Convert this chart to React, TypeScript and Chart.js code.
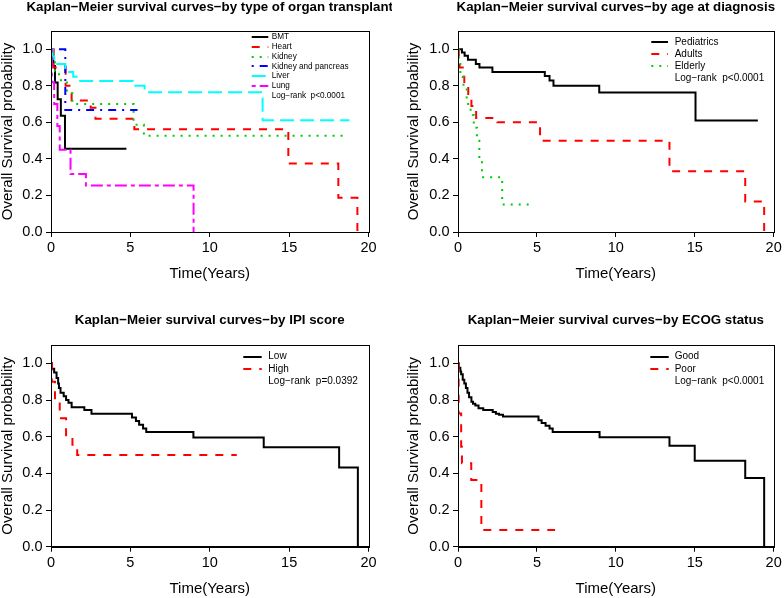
import React, { useEffect, useRef } from "react";
import { Chart, registerables } from "chart.js";

Chart.register(...registerables);

const FONT = "'Liberation Sans', Arial, Helvetica, sans-serif";
const M = "\u2212";

// ---------- axes ----------
const xTicks = [0, 5, 10, 15, 20];
const yTicks = [0, 0.2, 0.4, 0.6, 0.8, 1.0];
const xLabel = "Time(Years)";
const yLabel = "Overall Survival probability";

// ---------- panel 1: organ transplant ----------
const organLabels = ["BMT", "Heart", "Kidney", "Kidney and pancreas", "Liver", "Lung"];
const bmtTime = [0, 0.15, 0.25, 0.42, 0.62, 0.88, 4.75];
const bmtSurv = [1, 0.909, 0.818, 0.727, 0.636, 0.455, 0.455];
const heartTime = [0, 0.15, 0.92, 1.3, 2.5, 2.8, 5.25, 14.95, 18.1, 19.3];
const heartSurv = [1, 0.9, 0.8, 0.72, 0.68, 0.62, 0.5625, 0.375, 0.1875, 0];
const kidneyTime = [0, 0.1, 0.25, 0.5, 1.0, 1.35, 5.2, 5.85, 18.7];
const kidneySurv = [1, 0.94, 0.88, 0.83, 0.76, 0.7, 0.587, 0.527, 0.527];
const kpTime = [0, 0.9, 5.45];
const kpSurv = [1, 0.667, 0.667];
const liverTime = [0, 0.1, 0.2, 0.9, 1.4, 1.7, 5.15, 5.9, 13.33, 18.8];
const liverSurv = [1, 0.96, 0.92, 0.875, 0.85, 0.826, 0.8, 0.765, 0.612, 0.612];
const lungTime = [0, 0.05, 0.2, 0.4, 0.55, 1.23, 2.2, 8.98];
const lungSurv = [1, 0.82, 0.7, 0.58, 0.45, 0.317, 0.255, 0];
const organP = "Log" + M + "rank  p<0.0001";

// ---------- panel 2: age at diagnosis ----------
const ageLabels = ["Pediatrics", "Adults", "Elderly"];
const pedTime = [0, 0.25, 0.42, 0.63, 1.13, 1.36, 2.18, 5.5, 5.8, 6.05, 8.95, 15.05, 19.0];
const pedSurv = [1, 0.982, 0.964, 0.942, 0.92, 0.9, 0.876, 0.854, 0.829, 0.8, 0.763, 0.61, 0.61];
const adultTime = [0, 0.05, 0.1, 0.3, 0.4, 0.65, 0.85, 1.15, 2.5, 5.2, 13.4, 18.2, 19.4];
const adultSurv = [1, 0.95, 0.9, 0.85, 0.8, 0.74, 0.69, 0.624, 0.6, 0.5, 0.333, 0.167, 0];
const elderlyTime = [0, 0.05, 0.15, 0.35, 0.55, 0.8, 1.0, 1.2, 1.35, 1.52, 2.8, 4.65];
const elderlySurv = [1, 0.92, 0.85, 0.78, 0.7, 0.64, 0.57, 0.5, 0.4, 0.3, 0.15, 0.15];
const ageP = "Log" + M + "rank  p<0.0001";

// ---------- panel 3: IPI score ----------
const ipiLabels = ["Low", "High"];
const lowTime = [0, 0.05, 0.2, 0.35, 0.45, 0.5, 0.6, 0.8, 0.95, 1.1, 1.3, 2.1, 2.55, 5.1, 5.35, 5.55, 5.8, 6.0, 8.97, 13.4, 18.15, 19.33];
const lowSurv = [1, 0.97, 0.95, 0.92, 0.89, 0.865, 0.84, 0.82, 0.8, 0.785, 0.76, 0.745, 0.725, 0.705, 0.685, 0.665, 0.645, 0.625, 0.595, 0.542, 0.432, 0];
const highTime = [0, 0.05, 0.25, 0.55, 0.95, 1.35, 1.65, 11.7];
const highSurv = [1, 0.9, 0.8, 0.7, 0.6, 0.556, 0.5, 0.5];
const ipiP = "Log" + M + "rank  p=0.0392";

// ---------- panel 4: ECOG status ----------
const ecogLabels = ["Good", "Poor"];
const goodTime = [0, 0.04, 0.15, 0.2, 0.3, 0.4, 0.5, 0.6, 0.7, 0.85, 0.95, 1.1, 1.3, 1.6, 2.2, 2.4, 2.6, 2.85, 5.1, 5.3, 5.55, 5.8, 6.0, 8.97, 13.4, 15.0, 18.2, 19.4];
const goodSurv = [1, 0.976, 0.955, 0.94, 0.91, 0.89, 0.866, 0.84, 0.815, 0.79, 0.78, 0.77, 0.755, 0.745, 0.735, 0.725, 0.72, 0.71, 0.69, 0.675, 0.66, 0.645, 0.625, 0.597, 0.55, 0.469, 0.375, 0];
const poorTime = [0, 0.04, 0.2, 0.25, 0.84, 1.48, 6.15];
const poorSurv = [1, 0.727, 0.545, 0.4545, 0.364, 0.0909, 0.0909];
const ecogP = "Log" + M + "rank  p<0.0001";

// ---------- styles (R palette 1:6, lty 1:6, lwd 2) ----------
const colors = ["#000000", "#FF0000", "#00CD00", "#0000FF", "#00FFFF", "#FF00FF"];
const dashes: number[][] = [[], [8, 8], [2, 6], [2, 6, 8, 6], [14, 6], [4, 4, 12, 4]];

type Panel = {
  title: string;
  labels: string[];
  times: number[][];
  surv: number[][];
  note: string;
  left: number;
  top: number;
  area: { l: number; t: number; r: number; b: number };
  titleY: number;
  yTitlePad: number;
  legend: { x0: number; x1: number; tx: number; y0: number; dy: number; size: number };
};

const W = 392;
const H = 299;
const XH = 50;

const panels: Panel[] = [
  {
    title: "Kaplan" + M + "Meier survival curves" + M + "by type of organ transplant",
    labels: organLabels,
    times: [bmtTime, heartTime, kidneyTime, kpTime, liverTime, lungTime],
    surv: [bmtSurv, heartSurv, kidneySurv, kpSurv, liverSurv, lungSurv],
    note: organP,
    left: 0,
    top: 0,
    area: { l: 51, t: 31, r: 368.5, b: 232 },
    titleY: 7.5,
    yTitlePad: 0.3,
    legend: { x0: 251.7, x1: 268.3, tx: 271.7, y0: 37, dy: 9.8, size: 8.2 },
  },
  {
    title: "Kaplan" + M + "Meier survival curves" + M + "by age at diagnosis",
    labels: ageLabels,
    times: [pedTime, adultTime, elderlyTime],
    surv: [pedSurv, adultSurv, elderlySurv],
    note: ageP,
    left: 392,
    top: 0,
    area: { l: 66, t: 31, r: 383.3, b: 232 },
    titleY: 7.5,
    yTitlePad: 14.8,
    legend: { x0: 259.3, x1: 276, tx: 282.7, y0: 42.3, dy: 12, size: 10 },
  },
  {
    title: "Kaplan" + M + "Meier survival curves" + M + "by IPI score",
    labels: ipiLabels,
    times: [lowTime, highTime],
    surv: [lowSurv, highSurv],
    note: ipiP,
    left: 0,
    top: 299,
    area: { l: 51, t: 46, r: 368.5, b: 247.7 },
    titleY: 21.8,
    yTitlePad: 0.3,
    legend: { x0: 243.3, x1: 261.7, tx: 268.3, y0: 57.7, dy: 12.3, size: 10 },
  },
  {
    title: "Kaplan" + M + "Meier survival curves" + M + "by ECOG status",
    labels: ecogLabels,
    times: [goodTime, poorTime],
    surv: [goodSurv, poorSurv],
    note: ecogP,
    left: 392,
    top: 299,
    area: { l: 66, t: 46, r: 383.3, b: 247.7 },
    titleY: 21.8,
    yTitlePad: 14.8,
    legend: { x0: 258.3, x1: 276.7, tx: 282.7, y0: 57.7, dy: 12.3, size: 10 },
  },
];

function makeFramePlugin(p: Panel) {
  return {
    id: "rframe",
    afterDraw(chart: any) {
      const { ctx, chartArea: a } = chart;
      ctx.save();
      ctx.setLineDash([]);
      ctx.strokeStyle = "#000";
      ctx.lineWidth = 1;
      ctx.strokeRect(
        Math.round(a.left) + 0.5,
        Math.round(a.top) + 0.5,
        Math.round(a.right) - Math.round(a.left),
        Math.round(a.bottom) - Math.round(a.top)
      );
      ctx.fillStyle = "#000";
      ctx.font = `bold 13.3px ${FONT}`;
      ctx.textAlign = "center";
      ctx.textBaseline = "middle";
      ctx.fillText(p.title, (a.left + a.right) / 2, p.titleY);

      const lg = p.legend;
      ctx.font = `${lg.size}px ${FONT}`;
      ctx.textAlign = "left";
      const dsets = chart.data.datasets;
      dsets.forEach((ds: any, i: number) => {
        const y = lg.y0 + i * lg.dy;
        ctx.save();
        ctx.strokeStyle = ds.borderColor;
        ctx.lineWidth = ds.borderWidth;
        ctx.lineCap = "butt";
        ctx.setLineDash(ds.borderDash || []);
        ctx.beginPath();
        ctx.moveTo(lg.x0, Math.round(y));
        ctx.lineTo(lg.x1, Math.round(y));
        ctx.stroke();
        ctx.restore();
        ctx.fillStyle = "#000";
        ctx.fillText(ds.label, lg.tx, y);
      });
      ctx.fillText(p.note, lg.tx, lg.y0 + dsets.length * lg.dy);
      ctx.restore();
    },
  };
}

function KMPanel({ p }: { p: Panel }) {
  const ref = useRef<HTMLCanvasElement | null>(null);
  useEffect(() => {
    if (!ref.current) return;
    const n = p.labels.length;
    const datasets = p.labels.map((label, i) => ({
      label,
      data: p.times[i].map((t, j) => ({ x: t, y: p.surv[i][j] })),
      borderColor: colors[i],
      backgroundColor: colors[i],
      borderWidth: 2,
      borderDash: dashes[i],
      borderCapStyle: "butt",
      borderJoinStyle: "miter",
      stepped: true,
      pointRadius: 0,
      fill: false,
      tension: 0,
      order: n - i,
    }));
    const tickFont = { family: FONT, size: 14.5 };
    const titleFont = { family: FONT, size: 15, lineHeight: 1 };
    const chart = new Chart(ref.current, {
      type: "line",
      data: { datasets } as any,
      options: {
        responsive: false,
        animation: false,
        devicePixelRatio: 1,
        layout: {
          padding: { left: 0, top: p.area.t, right: W - p.area.r, bottom: H - p.area.b - XH },
        },
        plugins: {
          legend: { display: false },
          tooltip: { enabled: false },
          title: { display: false },
        },
        scales: {
          x: {
            type: "linear",
            min: 0,
            max: 20,
            afterBuildTicks: (s: any) => {
              s.ticks = xTicks.map((v) => ({ value: v }));
            },
            afterFit: (s: any) => {
              s.height = XH;
            },
            grid: { display: true, drawOnChartArea: false, drawTicks: true, tickLength: 5, color: "#000", lineWidth: 1 },
            border: { display: true, color: "#000", width: 1 },
            ticks: { color: "#000", font: tickFont, padding: 2.3, maxRotation: 0, autoSkip: false, callback: (v: any) => String(v) },
            title: { display: true, text: xLabel, color: "#000", font: titleFont, padding: { top: 0, bottom: 0.8 } },
          },
          y: {
            type: "linear",
            min: 0,
            max: 1.1,
            afterBuildTicks: (s: any) => {
              s.ticks = yTicks.map((v) => ({ value: v }));
            },
            afterFit: (s: any) => {
              s.width = p.area.l;
            },
            grid: { display: true, drawOnChartArea: false, drawTicks: true, tickLength: 5, color: "#000", lineWidth: 1 },
            border: { display: true, color: "#000", width: 1 },
            ticks: { color: "#000", font: tickFont, padding: 3.5, autoSkip: false, callback: (v: any) => Number(v).toFixed(1) },
            title: { display: true, text: yLabel, color: "#000", font: titleFont, padding: { top: p.yTitlePad, bottom: 0 } },
          },
        },
      } as any,
      plugins: [makeFramePlugin(p)],
    });
    return () => chart.destroy();
  }, [p]);
  return (
    <canvas
      ref={ref}
      width={W}
      height={H}
      style={{ position: "absolute", left: p.left, top: p.top, width: W + "px", height: H + "px", display: "block" }}
    />
  );
}

export default function App() {
  return (
    <div style={{ position: "fixed", left: 0, top: 0, width: 784, height: 598, background: "#fff", overflow: "hidden" }}>
      {panels.map((p, i) => (
        <KMPanel key={i} p={p} />
      ))}
    </div>
  );
}
